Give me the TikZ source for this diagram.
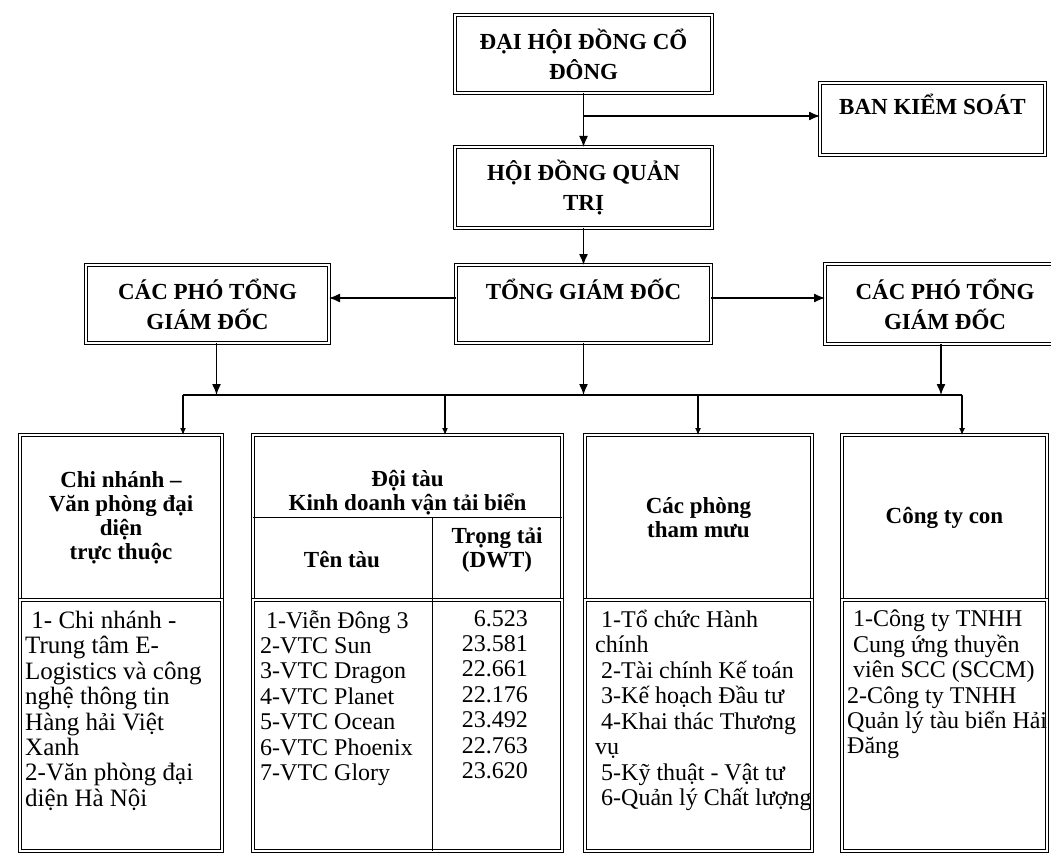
\documentclass[tikz,border=0pt]{standalone}
\usepackage{fontspec}
\setmainfont{Liberation Serif}
\usetikzlibrary{arrows.meta, positioning}
\newcommand\tightls{\lineskiplimit-20pt\relax}

\begin{document}
\begin{tikzpicture}[x=1pt, y=-1pt, >={Latex[length=11pt,width=9pt]}]
  \tikzstyle{dbox}=[rectangle, draw, line width=1.5pt, double, double distance=1.8pt,
                    outer sep=0pt, inner sep=2pt, align=center,
                    font=\fontsize{23}{30}\selectfont\bfseries]
  \tikzstyle{head}=[dbox, font=\fontsize{23}{24}\selectfont\bfseries\tightls]
  \tikzstyle{txt}=[inner sep=0pt, align=left,
                   font=\fontsize{24}{25.4}\selectfont\tightls]
  \tikzstyle{arr}=[->, line width=1.3pt]
  \tikzstyle{drop}=[-{Latex[length=7pt,width=6pt]}, line width=1.1pt]
  \tikzstyle{rule}=[line width=0.8pt]

  \useasboundingbox (0,0) rectangle (1051,853);
  \clip (0,0) rectangle (1051,853);

  % upper levels
  \node[dbox, minimum width=257pt, minimum height=78pt, anchor=north west](dhcd) at (455,15)
       {ĐẠI HỘI ĐỒNG CỔ\\ĐÔNG};
  \node[dbox, minimum width=257pt, minimum height=81pt, below=54pt of dhcd](hdqt)
       {HỘI ĐỒNG QUẢN\\TRỊ};
  \node[dbox, minimum width=225pt, minimum height=72pt, anchor=north west](bks) at (820,83)
       {BAN KIỂM SOÁT\\\mbox{}};
  \node[dbox, minimum width=255pt, minimum height=78pt, below=37pt of hdqt](tgd)
       {TỔNG GIÁM ĐỐC\\\mbox{}};
  \node[dbox, minimum width=243pt, minimum height=78pt, left=127pt of tgd](phoL)
       {CÁC PHÓ TỔNG\\GIÁM ĐỐC};
  \node[dbox, minimum width=240pt, minimum height=80pt, right=114pt of tgd](phoR)
       {CÁC PHÓ TỔNG\\GIÁM ĐỐC};

  \coordinate (kbr) at ([yshift=3pt]dhcd.south |- bks.west);
  \draw[arr] (dhcd.south) -- (hdqt.north);
  \draw[arr] (kbr) -- (kbr -| bks.west);
  \draw[arr] (hdqt.south) -- (tgd.north);
  \draw[arr] ([yshift=6pt]tgd.west) -- ([yshift=6pt]tgd.west -| phoL.east);
  \draw[arr] ([yshift=6pt]tgd.east) -- ([yshift=6pt]tgd.east -| phoR.west);

  % units
  \node[head, minimum width=202pt, minimum height=165pt, anchor=north west](chiH) at (20,435)
       {Chi nhánh –\\Văn phòng đại\\diện\\trực thuộc};
  \node[dbox, minimum width=202pt, minimum height=251pt, below=0pt of chiH](chiL){};
  \node[head, minimum width=309pt, minimum height=165pt, right=31pt of chiH](tauH){};
  \node[dbox, minimum width=309pt, minimum height=251pt, below=0pt of tauH](tauL){};
  \node[head, minimum width=227pt, minimum height=165pt, right=23pt of tauH](phongH)
       {Các phòng\\tham mưu};
  \node[dbox, minimum width=227pt, minimum height=251pt, below=0pt of phongH](phongL){};
  \node[head, minimum width=205pt, minimum height=165pt, right=30pt of phongH](ctyH)
       {Công ty con};
  \node[dbox, minimum width=205pt, minimum height=251pt, below=0pt of ctyH](ctyL){};

  \coordinate (b1) at (183,395);
  \coordinate (b2) at (445,395);
  \coordinate (b3) at (698,395);
  \coordinate (b4) at (962,395);
  \draw[line width=1.6pt] (b1) -- (b4);
  \draw[arr] ([xshift=9pt]phoL.south) -- ([xshift=9pt]phoL.south |- b1);
  \draw[arr] (tgd.south) -- (tgd.south |- b1);
  \draw[arr] ([xshift=-4pt]phoR.south) -- ([xshift=-4pt]phoR.south |- b1);
  \draw[drop] (b1) -- (b1 |- chiH.north);
  \draw[drop] (b2) -- (b2 |- tauH.north);
  \draw[drop] (b3) -- (b3 |- phongH.north);
  \draw[drop] (b4) -- (b4 |- ctyH.north);

  % ship table
  \coordinate (colx) at (432,517);
  \draw[rule] ([yshift=-82pt]tauH.north west) -- ([yshift=-82pt]tauH.north east);
  \draw[rule] (colx) -- (colx |- tauL.south);
  \node[head, draw=none, double=none](tauTtl) at ([yshift=-58pt]tauH.north)
       {Đội tàu\\Kinh doanh vận tải biển};
  \node[head, draw=none, double=none](tauCol1) at (342,560) {Tên tàu};
  \node[head, draw=none, double=none](tauCol2) at (497,550) {Trọng tải\\(DWT)};

  \node[txt, anchor=north west, font=\fontsize{25}{25.4}\selectfont\tightls]
       (chiTxt) at ([shift={(5,11)}]chiL.north west)
       {\ 1- Chi nhánh -\\Trung tâm E-\\Logistics và công\\nghệ thông tin\\Hàng hải Việt\\Xanh\\2-Văn phòng đại\\diện Hà Nội};
  \node[txt, anchor=north west](tauTxt) at ([shift={(7,10)}]tauL.north west)
       {\ 1-Viễn Đông 3\\2-VTC Sun\\3-VTC Dragon\\4-VTC Planet\\5-VTC Ocean\\6-VTC Phoenix\\7-VTC Glory};
  \node[txt, anchor=north east, align=right](dwtTxt) at ([shift={(-34,10)}]tauL.north east)
       {6.523\\23.581\\22.661\\22.176\\23.492\\22.763\\23.620};
  \node[txt, anchor=north west](phongTxt) at ([shift={(10,10)}]phongL.north west)
       {\ 1-Tổ chức Hành\\chính\\\ 2-Tài chính Kế toán\\\ 3-Kế hoạch Đầu tư\\\ 4-Khai thác Thương\\vụ\\\ 5-Kỹ thuật - Vật tư\\\ 6-Quản lý Chất lượng};
  \node[txt, anchor=north west](ctyTxt) at ([shift={(5,10)}]ctyL.north west)
       {\ 1-Công ty TNHH\\\ Cung ứng thuyền\\\ viên SCC (SCCM)\\2-Công ty TNHH\\Quản lý tàu biển Hải\\Đăng};
\end{tikzpicture}
\end{document}
